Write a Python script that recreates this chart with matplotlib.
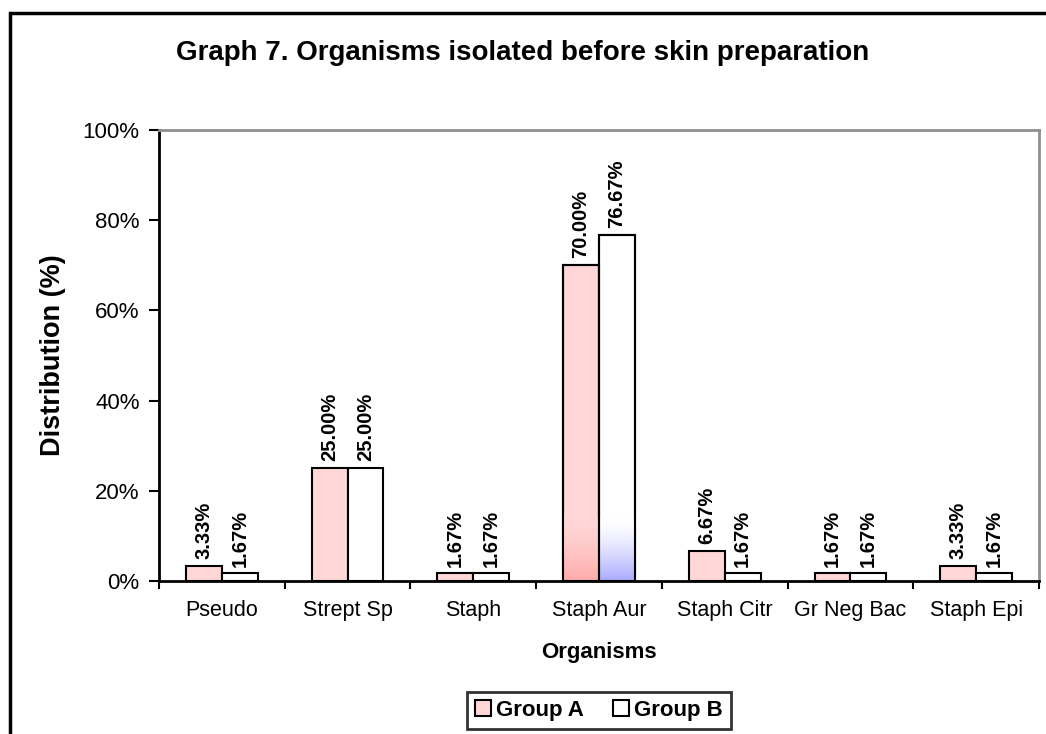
import matplotlib
matplotlib.use("Agg")
import matplotlib.pyplot as plt
import numpy as np
from matplotlib.patches import Rectangle, Patch
from matplotlib.colors import LinearSegmentedColormap

plt.rcParams['font.family'] = ['Liberation Sans', 'DejaVu Sans']

categories = ["Pseudo", "Strept Sp", "Staph", "Staph Aur", "Staph Citr", "Gr Neg Bac", "Staph Epi"]
group_a = [3.33, 25.00, 1.67, 70.00, 6.67, 1.67, 3.33]
group_b = [1.67, 25.00, 1.67, 76.67, 1.67, 1.67, 1.67]
series_names = ["Group A", "Group B"]
title = "Graph 7. Organisms isolated before skin preparation"

fig = plt.figure(figsize=(10.46, 7.34), dpi=100)
ax = fig.add_axes([159/1046, 1 - 581/734, (1039-159)/1046, (581-130)/734])

x = np.arange(len(categories))
w = 1/3.5
col_a = "#FFD7D7"
col_b = "#FFFFFF"
bars_a = ax.bar(x - w/2, group_a, w, color=col_a, edgecolor="black", linewidth=1.5, zorder=3)
bars_b = ax.bar(x + w/2, group_b, w, color=col_b, edgecolor="black", linewidth=1.5, zorder=3)

# subtle gradient at the base of the tallest bars
imax = int(np.argmax(group_b))
for bar, base, c in [(bars_a[imax], col_a, "#FFAAAA"), (bars_b[imax], col_b, "#AAAAFF")]:
    cmap = LinearSegmentedColormap.from_list("g", [base, c])
    grad = np.linspace(0, 1, 100).reshape(-1, 1) ** 1.5
    bx = bar.get_x()
    im = ax.imshow(grad, extent=[bx, bx + bar.get_width(), 0, 14], origin="upper",
                   cmap=cmap, aspect="auto", zorder=3.5)
    im.set_clip_path(bar)
    ax.add_patch(Rectangle((bx, 0), bar.get_width(), bar.get_height(), fill=False,
                           edgecolor="black", linewidth=1.5, zorder=4))

for bars, vals in [(bars_a, group_a), (bars_b, group_b)]:
    for b, v in zip(bars, vals):
        ax.annotate(f"{v:.2f}%", (b.get_x() + b.get_width()/2, v), xytext=(0, 5),
                    textcoords="offset points", rotation=90, ha="center", va="bottom",
                    fontsize=14.5, fontweight="bold", zorder=5)

ax.set_xlim(-0.5, len(categories) - 0.5)
ax.set_ylim(0, 100)
ax.set_yticks(np.arange(0, 101, 20))
ax.set_yticklabels([f"{v}%" for v in range(0, 101, 20)], fontsize=16)
ax.tick_params(axis="y", direction="out", length=7, width=1.5, pad=7)
ax.set_xticks(x)
ax.set_xticklabels(categories, fontsize=15.5)
ax.tick_params(axis="x", length=0, pad=14)
ax.set_xticks(np.arange(-0.5, len(categories) + 0.5, 1), minor=True)
ax.tick_params(axis="x", which="minor", direction="out", length=6, width=1.5)

for s in ["left", "bottom"]:
    ax.spines[s].set_linewidth(2)
    ax.spines[s].set_color("black")
for s in ["top", "right"]:
    ax.spines[s].set_linewidth(2)
    ax.spines[s].set_color("#909090")

ax.set_ylabel("Distribution (%)", fontsize=19.5, fontweight="bold", labelpad=12)
ax.set_xlabel("Organisms", fontsize=16, fontweight="bold", labelpad=15)

fig.text(523/1046, 1 - 53/734, title, ha="center", va="center", fontsize=20, fontweight="bold")

handles = [Patch(facecolor=col_a, edgecolor="black", linewidth=1.5),
           Patch(facecolor=col_b, edgecolor="black", linewidth=1.5)]
leg = fig.legend(handles, series_names, loc="upper center", bbox_to_anchor=(599/1046, 1 - 681/734),
                 ncol=2, frameon=True, fancybox=False, prop={"weight": "bold", "size": 16},
                 handlelength=0.7, handleheight=0.7, handletextpad=0.25, columnspacing=1.3,
                 borderpad=0.35, edgecolor="black")
leg.get_frame().set_linewidth(2)

fig.patches.append(Rectangle((10/1046, -0.1), 1.2, 1 - 13/734 + 0.1, transform=fig.transFigure,
                             fill=False, edgecolor="black", linewidth=2.5, clip_on=False))

fig.savefig("out.png", dpi=100)
